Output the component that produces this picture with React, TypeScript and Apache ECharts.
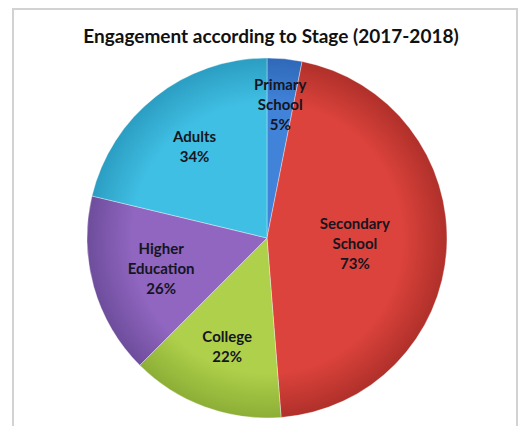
import React, { useEffect, useRef } from "react";
import * as echarts from "echarts";

const categories = ["Primary School", "Secondary School", "College", "Higher Education", "Adults"];
const values = [5, 73, 22, 26, 34];
const titleText = "Engagement according to Stage (2017-2018)";

// styles
const innerColors = ["#4183d8", "#dc433c", "#aed04a", "#9066c0", "#40bfe4"];
const outerColors = ["#2f68b8", "#b0302a", "#8cae36", "#6e4d9c", "#2b9ec2"];
const labelRadius = [135, 88, 115, 110, 117];
const CX = 267;
const CY = 238;
const R = 180;

export default function App() {
  const ref = useRef<HTMLDivElement>(null);
  useEffect(() => {
    if (!ref.current) return;
    const chart = echarts.init(ref.current, null, { renderer: "svg" });
    const data = categories.map((name, i) => ({
      name,
      value: values[i],
      itemStyle: {
        color: new echarts.graphic.RadialGradient(CX, CY, R, [
          { offset: 0, color: innerColors[i] },
          { offset: 0.75, color: innerColors[i] },
          { offset: 1, color: outerColors[i] },
        ], true),
      },
    }));
    chart.setOption({
      animation: false,
      backgroundColor: "#ffffff",
      title: {
        text: titleText,
        left: 266,
        textAlign: "center",
        top: 21,
        textStyle: { fontFamily: "Lato", fontWeight: "bold", fontSize: 19, color: "#111" },
      },
      graphic: [
        {
          type: "rect",
          shape: { x: 13, y: 9, width: 504, height: 440 },
          style: { fill: "none", stroke: "#d2d2d2", lineWidth: 2 },
          z: 100,
        },
      ],
      series: [
        {
          type: "pie",
          center: [CX, CY],
          radius: [0, R],
          startAngle: 90,
          clockwise: true,
          itemStyle: { borderColor: "rgba(255,255,255,0.35)", borderWidth: 1 },
          label: {
            show: true,
            position: "inside",
            fontFamily: "Lato",
            fontWeight: "bold",
            fontSize: 15,
            lineHeight: 20,
            color: "#15151f",
            formatter: (p: any) => p.name.replace(" ", "\n") + "\n" + p.value + "%",
          },
          labelLine: { show: false },
          labelLayout: (p: any) => {
            const i = p.dataIndex;
            const lx = p.labelRect.x + p.labelRect.width / 2;
            const ly = p.labelRect.y + p.labelRect.height / 2;
            const vx = lx - CX;
            const vy = ly - CY;
            const d = Math.sqrt(vx * vx + vy * vy) || 1;
            const extra = labelRadius[i] - d;
            return { dx: (vx / d) * extra, dy: (vy / d) * extra };
          },
          data,
        },
      ],
    });
    return () => chart.dispose();
  }, []);
  return (
    <div
      ref={ref}
      style={{ position: "fixed", left: 0, top: 0, width: 519, height: 426 }}
    />
  );
}
